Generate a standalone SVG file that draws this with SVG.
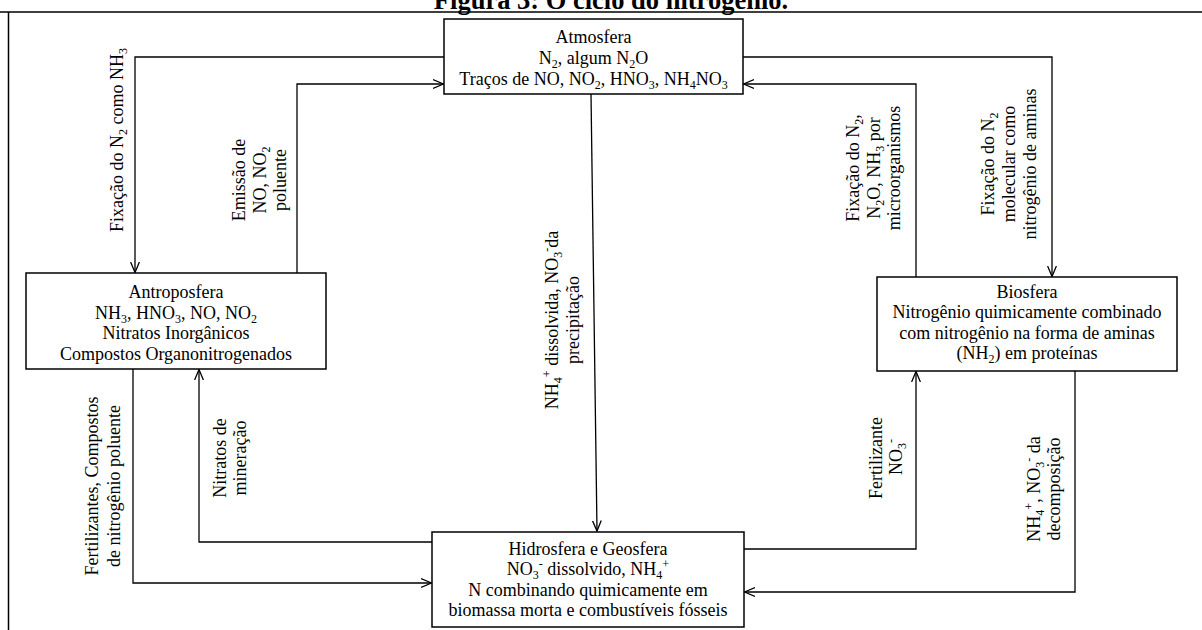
<svg xmlns="http://www.w3.org/2000/svg" width="1202" height="630" viewBox="0 0 1202 630">
<style>
text{font-family:"Liberation Serif","Times New Roman",serif;font-size:18px;fill:#000}
.c{text-anchor:middle}
.title{font-weight:bold;font-size:26.5px;text-anchor:middle}
.box{fill:#fff;stroke:#000;stroke-width:1.5}
.ln{fill:none;stroke:#000;stroke-width:1.3}
.frame{fill:none;stroke:#000;stroke-width:1.5}
.sb{font-size:12px;baseline-shift:-4px}
.sp{font-size:12px;baseline-shift:7px}
</style>
<defs>
<marker id="arr" markerWidth="12" markerHeight="10" viewBox="0 0 12 10" refX="10.5" refY="5" orient="auto" markerUnits="userSpaceOnUse">
<path d="M0,0.6 L10.5,5 L0,9.4" fill="none" stroke="#000" stroke-width="1.3"/>
</marker>
</defs>
<rect width="1202" height="630" fill="#fff"/>
<text class="title" x="611" y="8.5">Figura 3: O ciclo do nitrogênio.</text>
<path class="frame" d="M0,12 H1202 M8.5,12 V630"/>

<g id="connectors">
<path class="ln" d="M444,57 H135 V272.5" marker-end="url(#arr)"/>
<path class="ln" d="M297,273 V84 H443.5" marker-end="url(#arr)"/>
<path class="ln" d="M591,94 L597,531" marker-end="url(#arr)"/>
<path class="ln" d="M743,57 H1052 V276.5" marker-end="url(#arr)"/>
<path class="ln" d="M916,277 V84 H743.5" marker-end="url(#arr)"/>
<path class="ln" d="M133,369 V583 H431.5" marker-end="url(#arr)"/>
<path class="ln" d="M432,542 H199 V369.5" marker-end="url(#arr)"/>
<path class="ln" d="M744,549 H916 V371.5" marker-end="url(#arr)"/>
<path class="ln" d="M1075,371 V592 H744.5" marker-end="url(#arr)"/>
</g>

<g id="atmosfera">
<rect class="box" x="444" y="19" width="299" height="75"/>
<text class="c" x="593.5" y="42.5">Atmosfera</text>
<text class="c" x="593.5" y="64">N<tspan class="sb">2</tspan>, algum N<tspan class="sb">2</tspan>O</text>
<text class="c" x="593.5" y="84.5">Traços de NO, NO<tspan class="sb">2</tspan>, HNO<tspan class="sb">3</tspan>, NH<tspan class="sb">4</tspan>NO<tspan class="sb">3</tspan></text>
</g>

<g id="antroposfera">
<rect class="box" x="26" y="273" width="300" height="96"/>
<text class="c" x="176" y="297.5">Antroposfera</text>
<text class="c" x="176" y="318.5">NH<tspan class="sb">3</tspan>, HNO<tspan class="sb">3</tspan>, NO, NO<tspan class="sb">2</tspan></text>
<text class="c" x="176" y="339">Nitratos Inorgânicos</text>
<text class="c" x="176" y="359.5">Compostos Organonitrogenados</text>
</g>

<g id="biosfera">
<rect class="box" x="877" y="277" width="300" height="94"/>
<text class="c" x="1027" y="297.5">Biosfera</text>
<text class="c" x="1027" y="318">Nitrogênio quimicamente combinado</text>
<text class="c" x="1027" y="338.5">com nitrogênio na forma de aminas</text>
<text class="c" x="1027" y="358.5">(NH<tspan class="sb">2</tspan>) em proteínas</text>
</g>

<g id="hidrosfera">
<rect class="box" x="432" y="532" width="312" height="95"/>
<text class="c" x="588" y="554.5">Hidrosfera e Geosfera</text>
<text class="c" x="588" y="575">NO<tspan class="sb">3</tspan><tspan class="sp">-</tspan> dissolvido, NH<tspan class="sb">4</tspan><tspan class="sp">+</tspan></text>
<text class="c" x="588" y="595.5">N combinando quimicamente em</text>
<text class="c" x="588" y="615.5">biomassa morta e combustíveis fósseis</text>
</g>

<g id="labels">
<text class="c" transform="translate(123,140) rotate(-90)">Fixação do N<tspan class="sb">2</tspan> como NH<tspan class="sb">3</tspan></text>
<text class="c" transform="translate(245,180) rotate(-90)">Emissão de</text>
<text class="c" transform="translate(265.5,180) rotate(-90)">NO, NO<tspan class="sb">2</tspan></text>
<text class="c" transform="translate(286,180) rotate(-90)">poluente</text>
<text class="c" transform="translate(557.5,320) rotate(-90)">NH<tspan class="sb">4</tspan><tspan class="sp">+</tspan> dissolvida, NO<tspan class="sb">3</tspan><tspan class="sp">-</tspan>da</text>
<text class="c" transform="translate(578.5,320) rotate(-90)">precipitação</text>
<text class="c" transform="translate(858.5,168) rotate(-90)">Fixação do N<tspan class="sb">2</tspan>,</text>
<text class="c" transform="translate(879.5,168) rotate(-90)">N<tspan class="sb">2</tspan>O, NH<tspan class="sb">3</tspan> por</text>
<text class="c" transform="translate(900,168) rotate(-90)">microorganismos</text>
<text class="c" transform="translate(994,164) rotate(-90)">Fixação do N<tspan class="sb">2</tspan></text>
<text class="c" transform="translate(1015,164) rotate(-90)">molecular como</text>
<text class="c" transform="translate(1036,164) rotate(-90)">nitrogênio de aminas</text>
<text class="c" transform="translate(97.5,486) rotate(-90)">Fertilizantes, Compostos</text>
<text class="c" transform="translate(119.5,486) rotate(-90)">de nitrogênio poluente</text>
<text class="c" transform="translate(225.5,458) rotate(-90)">Nitratos de</text>
<text class="c" transform="translate(246,458) rotate(-90)">mineração</text>
<text class="c" transform="translate(882,458) rotate(-90)">Fertilizante</text>
<text class="c" transform="translate(902,457) rotate(-90)">NO<tspan class="sb">3</tspan><tspan class="sp">-</tspan></text>
<text class="c" transform="translate(1040,489) rotate(-90)">NH<tspan class="sb">4</tspan><tspan class="sp">+</tspan>, NO<tspan class="sb">3</tspan><tspan class="sp">-</tspan> da</text>
<text class="c" transform="translate(1060,489) rotate(-90)">decomposição</text>
</g>
</svg>
